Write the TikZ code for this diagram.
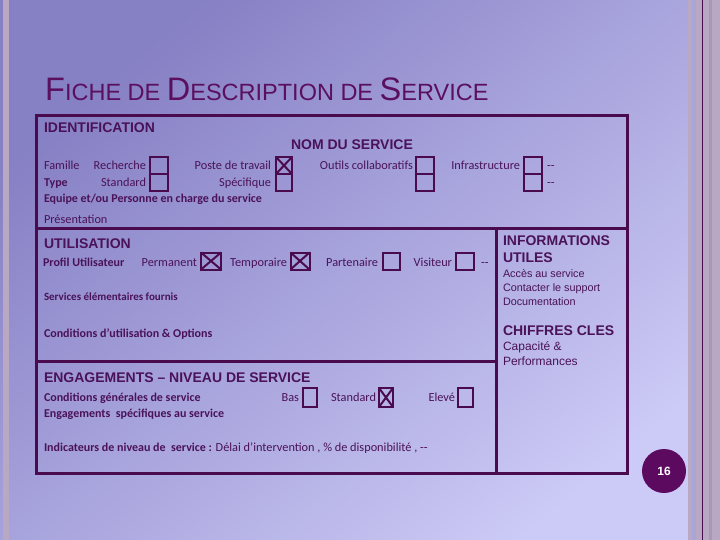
\documentclass[tikz,border=0pt]{standalone}
\usepackage{fontspec}
\setmainfont{Carlito}
\newfontfamily\arialf{Liberation Sans}
\definecolor{bgA}{HTML}{8680C4}
\definecolor{bgB}{HTML}{CCCAF6}
\definecolor{dpurple}{HTML}{4A0A4E}
\definecolor{tpurple}{HTML}{4A1258}
\definecolor{titlec}{HTML}{5A0F5F}
\definecolor{stripA}{HTML}{B8A8C4}
\definecolor{stripB}{HTML}{A8A6D6}
\definecolor{stripC}{HTML}{A898B8}
\tikzset{
  lbl/.style={anchor=base west, inner sep=0, outer sep=0, text=tpurple, font=\fontsize{12.3}{12.3}\selectfont},
  lblb/.style={lbl, font=\bfseries\fontsize{12}{12}\selectfont},
  lblr/.style={lbl, anchor=base east},
  hdr/.style={anchor=base west, inner sep=0, outer sep=0, text=tpurple, font=\arialf\bfseries\fontsize{14}{14}\selectfont},
  info/.style={anchor=base west, inner sep=0, outer sep=0, text=tpurple, font=\arialf\fontsize{10.8}{12}\selectfont},
  chk/.style 2 args={draw=dpurple, line width=2pt, minimum width=#1, minimum height=#2, inner sep=0, outer sep=0},
  xmark/.style={draw=dpurple, line width=2pt},
  frame/.style={draw=dpurple, line width=3pt}
}
\begin{document}
\begin{tikzpicture}[x=1pt,y=-1pt]
\useasboundingbox (0,0) rectangle (720,540);
% background
\begin{scope}[y=1pt]
\shade[top color=bgA, bottom color=bgB, shading angle=40] (0,0) rectangle (720,-540);
\end{scope}
\fill[stripA] (3,0) rectangle (9,540);
\fill[stripA] (688,0) rectangle (720,540);
\fill[stripB] (692,0) rectangle (696,540);
\fill[stripC] (709,0) rectangle (712,540);
\draw[dpurple, line width=1pt] (702,0) -- (702,540);

% title
\node[anchor=base west, inner sep=0, text=titlec] (title) at (45,101)
  {\arialf\fontsize{32.5}{32}\selectfont F\fontsize{23.5}{23}\selectfont ICHE DE \fontsize{32.5}{32}\selectfont D\fontsize{23.5}{23}\selectfont ESCRIPTION DE \fontsize{32.5}{32}\selectfont S\fontsize{23.5}{23}\selectfont ERVICE};

% frame
\draw[frame] (36,116) rectangle (627,473);
\draw[frame] (36,229) -- (627,229);
\draw[frame] (496,229) -- (496,473);
\draw[frame] (36,361) -- (496,361);

% IDENTIFICATION
\node[hdr] (ident) at (44,133) {IDENTIFICATION};
\node[hdr] (nom) at (291,150) {NOM DU SERVICE};
\node[lbl] (famille) at (44,170) {Famille};
\node[lblr] (recherche) at (146,170) {Recherche};
\node[lblb] (type) at (44,187) {Type};
\node[lblr] (standard) at (146,187) {Standard};
\node[lblr] (poste) at (271,170) {Poste de travail};
\node[lblr] (specif) at (271,187) {Spécifique};
\node[lblr] (outils) at (413,170) {Outils collaboratifs};
\node[lblr] (infra) at (520,170) {Infrastructure};
\node[lbl] (dots1) at (547,170) {-{}-};
\node[lbl] (dots2) at (547,187) {-{}-};
\node[lblb] (equipe) at (44,203) {Equipe et/ou Personne en charge du service};
\node[lbl] (present) at (44,223) {Présentation};

\node[chk={18pt}{17pt}] (c1a) at (159,165.5) {};
\node[chk={18pt}{17pt}] (c1b) at (159,182.5) {};
\node[chk={16pt}{17pt}] (c2a) at (284,165.5) {};
\node[chk={16pt}{17pt}] (c2b) at (284,182.5) {};
\node[chk={18pt}{17pt}] (c3a) at (425,165.5) {};
\node[chk={18pt}{17pt}] (c3b) at (425,182.5) {};
\node[chk={18pt}{17pt}] (c4a) at (533,165.5) {};
\node[chk={18pt}{17pt}] (c4b) at (533,182.5) {};
\draw[xmark] (c2a.north west) -- (c2a.south east) (c2a.north east) -- (c2a.south west);

% UTILISATION
\node[hdr] (util) at (44,248) {UTILISATION};
\node[lblb] (profil) at (43,266) {Profil Utilisateur};
\node[lblr] (perm) at (197,266) {Permanent};
\node[lblr] (temp) at (287,266) {Temporaire};
\node[lblr] (part) at (378,266) {Partenaire};
\node[lblr] (visit) at (452,266) {Visiteur};
\node[lbl] (dots3) at (481,266) {-{}-};
\node[chk={20pt}{17pt}] (cperm) at (211,261) {};
\node[chk={19pt}{17pt}] (ctemp) at (300,261) {};
\node[chk={17pt}{17pt}] (cpart) at (391.5,261) {};
\node[chk={18pt}{17pt}] (cvisit) at (465,261) {};
\draw[xmark] (cperm.north west) -- (cperm.south east) (cperm.north east) -- (cperm.south west);
\draw[xmark] (ctemp.north west) -- (ctemp.south east) (ctemp.north east) -- (ctemp.south west);
\node[lblb, font=\bfseries\fontsize{11}{11}\selectfont] (servel) at (44,300) {Services élémentaires fournis};
\node[lblb] (condu) at (44,337) {Conditions d’utilisation \& Options};

% right column
\node[hdr] (infoh1) at (503,245) {INFORMATIONS};
\node[hdr] (infoh2) at (503,262) {UTILES};
\node[info] (acces) at (503,277) {Accès au service};
\node[info] (contact) at (503,291) {Contacter le support};
\node[info] (doc) at (503,305) {Documentation};
\node[hdr] (chiffres) at (503,335) {CHIFFRES CLES};
\node[info, font=\arialf\fontsize{12}{12}\selectfont] (capa) at (503,350) {Capacité \&};
\node[info, font=\arialf\fontsize{12}{12}\selectfont] (perf) at (503,365) {Performances};

% ENGAGEMENTS
\node[hdr] (engh) at (44,382) {ENGAGEMENTS – NIVEAU DE SERVICE};
\node[lblb] (condg) at (44,401) {Conditions générales de service};
\node[lblb] (engs) at (44,417) {Engagements\ \ spécifiques au service};
\node[lblr] (bas) at (299,401) {Bas};
\node[lblr] (stdd) at (376,401) {Standard};
\node[lblr] (elev) at (455,401) {Elevé};
\node[chk={14pt}{19pt}] (cbas) at (310,397.5) {};
\node[chk={14pt}{19pt}] (cstd) at (386,397.5) {};
\node[chk={15pt}{19pt}] (celev) at (465.5,397.5) {};
\draw[xmark] (cstd.north west) -- (cstd.south east) (cstd.north east) -- (cstd.south west);
\node[lbl] (indic) at (44,451) {\textbf{\fontsize{12}{12}\selectfont Indicateurs de niveau de\ \ service :} Délai d’intervention , \% de disponibilité , -{}-};

% page number
\node[circle, fill=dpurple!90!magenta, minimum size=44pt, inner sep=0, text=white, font=\arialf\bfseries\fontsize{12}{12}\selectfont] (pnum) at (664,471) {16};
\end{tikzpicture}
\end{document}
